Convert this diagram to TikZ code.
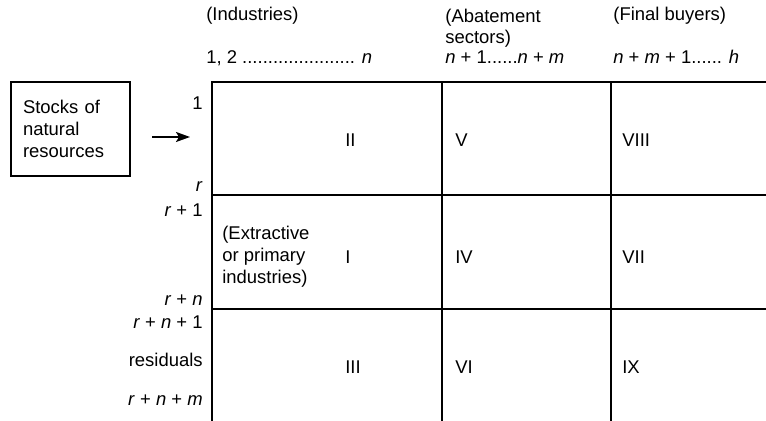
\documentclass[tikz,border=0pt]{standalone}
\usepackage{fontspec}
\setmainfont{Liberation Sans}
\usetikzlibrary{arrows.meta}

\begin{document}
\begin{tikzpicture}[x=0.02cm,y=-0.02cm,>={Stealth[length=2.8mm,width=2mm,inset=0.6mm]},
  every node/.style={font=\fontsize{10.5}{12.4}\selectfont,inner sep=0pt},
  rowlab/.style={anchor=base east},
  head/.style={anchor=base west,align=left},
  cell/.style={anchor=west},
  gridline/.style={line width=1.1pt}]
\useasboundingbox (0,0) rectangle (766,421);

% the table
\draw[gridline] (766,82) -- (212,82) -- (212,421);
\draw[gridline] (442,82) -- (442,421);
\draw[gridline] (611,82) -- (611,421);
\draw[gridline] (212,195) -- (766,195);
\draw[gridline] (212,309) -- (766,309);

% column heads
\node[head] (ind) at (206,21) {(Industries)};
\node[head] (abt) at (445,44) {(Abatement\\sectors)};
\node[head] (fin) at (613,21) {(Final buyers)};
\node[head] (indn) at (206,64) {1, 2 ...................... \textit{n}};
\node[head] (abtn) at (445,64) {\textit{n} + 1......\textit{n} + \textit{m}};
\node[head] (finn) at (613,64) {\textit{n} + \textit{m} + 1...... \textit{h}};

% row labels
\node[rowlab] (r1) at (203,110) {1};
\node[rowlab] (rr) at (203,192) {\textit{r}};
\node[rowlab] (rr1) at (203,217) {\textit{r} + 1};
\node[rowlab] (rrn) at (203,306) {\textit{r} + \textit{n}};
\node[rowlab] (rrn1) at (203,329) {\textit{r} + \textit{n} + 1};
\node[rowlab] (resid) at (203,367) {residuals};
\node[rowlab] (rrnm) at (203,405) {\textit{r} + \textit{n} + \textit{m}};

% stocks box and arrow
\node[draw,line width=1pt,text width=1.9cm,inner xsep=0.24cm,minimum height=1.88cm,align=left]
  (stocks) at (70.5,129) {Stocks of\\natural\\resources};
\coordinate (arrs) at (152,137);
\coordinate (arre) at (190,137);
\draw[->,line width=1pt] (arrs) -- (arre);

% cells
\node[cell] (c2) at (345,140) {II};
\node[cell] (c5) at (455,140) {V};
\node[cell] (c8) at (622,140) {VIII};
\node[cell,align=left] (extr) at (222,257) {(Extractive\\or primary\\industries)};
\node[cell] (c1) at (345,257) {I};
\node[cell] (c4) at (455,257) {IV};
\node[cell] (c7) at (622,257) {VII};
\node[cell] (c3) at (345,367) {III};
\node[cell] (c6) at (455,367) {VI};
\node[cell] (c9) at (622,367) {IX};
\end{tikzpicture}
\end{document}
